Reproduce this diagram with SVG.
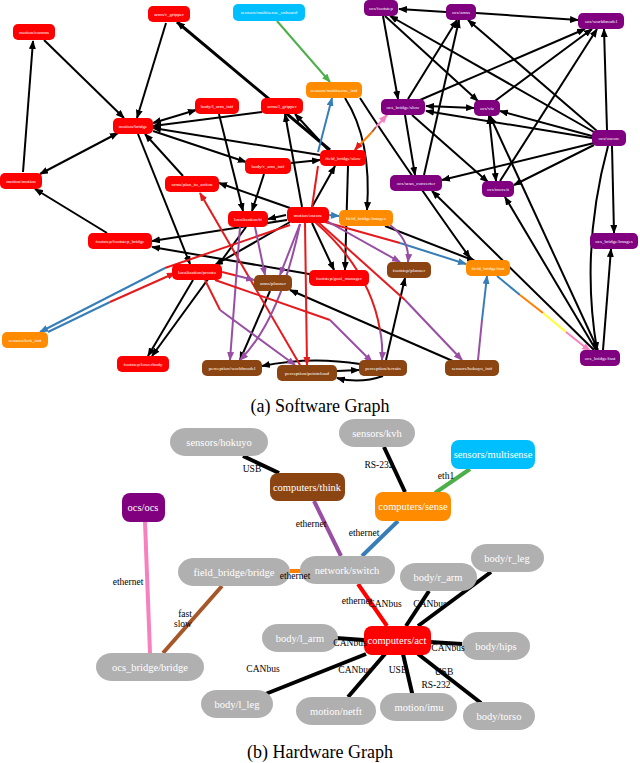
<svg xmlns="http://www.w3.org/2000/svg" width="640" height="763" viewBox="0 0 640 763">
<style>
.n rect{stroke:none}
.r{fill:#f00}.o{fill:#ff8c00}.c{fill:#00bfff}.b{fill:#8b4513}.p{fill:#800080}.g{fill:#b0b0b0}
.t{font-family:"Liberation Serif",serif;font-size:5px;fill:#fff;text-anchor:middle}
.T{font-family:"Liberation Serif",serif;font-size:10.5px;fill:#fff;text-anchor:middle}
.L{font-family:"Liberation Serif",serif;font-size:9.5px;fill:#000;text-anchor:middle}
.cap{font-family:"Liberation Serif",serif;font-size:18px;fill:#000;text-anchor:middle}
#edges line,#edges path{fill:none;stroke-width:2}
.k{stroke:#000;marker-end:url(#ak)}
.kk{stroke:#000;marker-end:url(#ak);marker-start:url(#ak)}
.er{stroke:#e41a1c}.eb{stroke:#377eb8}.ep{stroke:#984ea3}.eg{stroke:#4daf4a}.eo{stroke:#ff7f00}.ey{stroke:#ffff33}.epk{stroke:#f781bf}.ebr{stroke:#a65628}
.ar{marker-end:url(#ar)}.ab{marker-end:url(#ab)}.ap{marker-end:url(#ap)}.ag{marker-end:url(#ag)}.apk{marker-end:url(#apk)}
#hw line{stroke-width:4}
</style>
<defs>
<marker id="ak" markerUnits="userSpaceOnUse" markerWidth="9" markerHeight="7" refX="8" refY="3.5" orient="auto-start-reverse"><path d="M0,0L9,3.5L0,7z" fill="#000"/></marker>
<marker id="ar" markerUnits="userSpaceOnUse" markerWidth="9" markerHeight="7" refX="8" refY="3.5" orient="auto"><path d="M0,0L9,3.5L0,7z" fill="#e41a1c"/></marker>
<marker id="ab" markerUnits="userSpaceOnUse" markerWidth="9" markerHeight="7" refX="8" refY="3.5" orient="auto"><path d="M0,0L9,3.5L0,7z" fill="#377eb8"/></marker>
<marker id="ap" markerUnits="userSpaceOnUse" markerWidth="9" markerHeight="7" refX="8" refY="3.5" orient="auto"><path d="M0,0L9,3.5L0,7z" fill="#984ea3"/></marker>
<marker id="ag" markerUnits="userSpaceOnUse" markerWidth="9" markerHeight="7" refX="8" refY="3.5" orient="auto"><path d="M0,0L9,3.5L0,7z" fill="#4daf4a"/></marker>
<marker id="apk" markerUnits="userSpaceOnUse" markerWidth="9" markerHeight="7" refX="8" refY="3.5" orient="auto"><path d="M0,0L9,3.5L0,7z" fill="#f781bf"/></marker>
</defs>
<rect width="640" height="763" fill="#fff"/>
<g id="edges">
<line class="k" x1="23" y1="172" x2="33" y2="41"/>
<line class="k" x1="44" y1="40" x2="124" y2="118"/>
<line class="k" x1="166" y1="23" x2="137" y2="118"/>
<line class="kk" x1="118" y1="133" x2="40" y2="174"/>
<line class="kk" x1="196" y1="110" x2="153" y2="123"/>
<line class="k" x1="262" y1="112" x2="153" y2="126"/>
<line class="k" x1="330" y1="150" x2="177" y2="22" style="stroke-width:3"/>
<line class="k" x1="320" y1="155" x2="153" y2="128"/>
<line class="k" x1="153" y1="131" x2="246" y2="162"/>
<line class="k" x1="183" y1="176" x2="145" y2="134"/>
<line class="k" x1="138" y1="134" x2="190" y2="264"/>
<line class="k" x1="107" y1="233" x2="35" y2="189"/>
<line class="k" x1="287" y1="220" x2="152" y2="241"/>
<line class="k" x1="286" y1="215" x2="268" y2="219"/>
<line class="k" x1="302" y1="207" x2="285" y2="114"/>
<line class="k" x1="312" y1="207" x2="335" y2="166"/>
<line class="k" x1="312" y1="223" x2="334" y2="270"/>
<line class="k" x1="290" y1="208" x2="219" y2="183"/>
<line class="k" x1="290" y1="222" x2="215" y2="265"/>
<line class="k" x1="219" y1="114" x2="243" y2="211"/>
<line class="k" x1="264" y1="174" x2="252" y2="211"/>
<line class="k" x1="193" y1="280" x2="148" y2="356"/>
<line class="k" x1="246" y1="227" x2="152" y2="356"/>
<line class="k" x1="270" y1="291" x2="240" y2="360"/>
<line class="k" x1="348" y1="166" x2="345" y2="270"/>
<path class="k" d="M345,98 Q372,140 367,210"/>
<path class="k" d="M360,98 Q400,160 470,258"/>
<line class="k" x1="385" y1="226" x2="475" y2="261"/>
<line class="k" x1="386" y1="360" x2="405" y2="278"/>
<line class="k" x1="455" y1="362" x2="290" y2="290"/>
<path class="k" d="M360,364 Q310,356 262,366"/>
<line class="k" x1="337" y1="371" x2="359" y2="370"/>
<path class="k" d="M383,376 Q360,384 337,378"/>
<line class="k" x1="315" y1="275" x2="152" y2="247"/>
<line class="k" x1="330" y1="152" x2="295" y2="114"/>
<line class="k" x1="291" y1="163" x2="320" y2="160"/>
<line class="kk" x1="426" y1="106" x2="474" y2="108"/>
<line class="k" x1="383" y1="16" x2="398" y2="99"/>
<line class="k" x1="446" y1="12" x2="399" y2="9"/>
<line class="k" x1="476" y1="13" x2="578" y2="20"/>
<line class="k" x1="408" y1="99" x2="457" y2="20"/>
<line class="k" x1="420" y1="100" x2="585" y2="29"/>
<line class="k" x1="594" y1="132" x2="390" y2="16"/>
<line class="k" x1="597" y1="131" x2="468" y2="20"/>
<line class="k" x1="592" y1="136" x2="500" y2="111"/>
<line class="k" x1="592" y1="138" x2="426" y2="111"/>
<line class="k" x1="594" y1="143" x2="442" y2="180"/>
<line class="k" x1="594" y1="145" x2="514" y2="185"/>
<line class="k" x1="612" y1="146" x2="614" y2="233"/>
<line class="k" x1="424" y1="175" x2="459" y2="20"/>
<line class="k" x1="405" y1="115" x2="415" y2="175"/>
<line class="k" x1="412" y1="115" x2="488" y2="182"/>
<line class="k" x1="500" y1="181" x2="597" y2="29"/>
<line class="k" x1="495" y1="101" x2="592" y2="29"/>
<line class="kk" x1="489" y1="116" x2="496" y2="181"/>
<line class="k" x1="385" y1="16" x2="478" y2="101"/>
<line class="k" x1="607" y1="130" x2="604" y2="29"/>
<line class="k" x1="594" y1="350" x2="432" y2="191"/>
<line class="k" x1="596" y1="350" x2="505" y2="197"/>
<line class="k" x1="598" y1="350" x2="490" y2="116"/>
<line class="k" x1="603" y1="350" x2="611" y2="249"/>
<path class="k" d="M608,146 Q580,250 597,350"/>
<line class="eg ag" x1="277" y1="21" x2="330" y2="82"/>
<line class="eb ab" x1="318" y1="152" x2="332" y2="98"/>
<line class="eo" x1="355" y1="150" x2="372" y2="132"/>
<line class="er ar" x1="360" y1="144" x2="355" y2="150"/>
<line class="ebr" x1="372" y1="132" x2="376" y2="127"/>
<line class="epk apk" x1="376" y1="127" x2="387" y2="115"/>
<line class="er ar" x1="300" y1="365" x2="200" y2="193"/>
<line class="er" x1="290" y1="225" x2="165" y2="268"/>
<line class="eb ab" x1="165" y1="268" x2="40" y2="332"/>
<line class="eb" x1="48" y1="332" x2="110" y2="302"/>
<line class="er ar" x1="110" y1="302" x2="175" y2="273"/>
<line class="er ar" x1="305" y1="223" x2="307" y2="365"/>
<line class="er" x1="318" y1="222" x2="405" y2="300"/>
<line class="ep ap" x1="405" y1="300" x2="462" y2="360"/>
<path class="er" d="M315,222 Q370,270 380,330"/>
<path class="ep ap" d="M380,330 Q383,345 382,360"/>
<line class="er" x1="325" y1="222" x2="400" y2="243"/>
<line class="eb ab" x1="400" y1="243" x2="466" y2="264"/>
<line class="eb ab" x1="328" y1="215" x2="339" y2="216"/>
<line class="ep ap" x1="255" y1="227" x2="265" y2="275"/>
<line class="er" x1="222" y1="272" x2="238" y2="276"/>
<line class="ep ap" x1="238" y1="276" x2="254" y2="280"/>
<line class="ep ap" x1="300" y1="224" x2="280" y2="275"/>
<line class="ep ap" x1="325" y1="220" x2="400" y2="262"/>
<line class="ep ap" x1="240" y1="227" x2="230" y2="360"/>
<path class="ep ap" d="M300,224 Q280,320 240,360"/>
<line class="er" x1="205" y1="280" x2="220" y2="310"/>
<line class="ep ap" x1="220" y1="310" x2="295" y2="365"/>
<path class="ep ap" d="M390,225 Q410,240 408,262"/>
<line class="er" x1="215" y1="280" x2="330" y2="320"/>
<line class="ep ap" x1="330" y1="320" x2="372" y2="362"/>
<line class="ep" x1="478" y1="360" x2="482" y2="320"/>
<line class="eb ab" x1="482" y1="320" x2="487" y2="276"/>
<line class="eb" x1="497" y1="276" x2="520" y2="295"/>
<line class="eo" x1="520" y1="295" x2="543" y2="313"/>
<line class="ey" x1="543" y1="313" x2="566" y2="332"/>
<line class="epk apk" x1="566" y1="332" x2="590" y2="351"/>
<line class="er" x1="312" y1="207" x2="318" y2="166"/>
</g>
<g id="n-motion-comms" class="n"><rect class="r" x="13" y="24" width="42" height="16" rx="5"/><text class="t" x="34" y="34">motion/comms</text></g>
<g id="n-arms-r-gripper" class="n"><rect class="r" x="148" y="6" width="42" height="16" rx="5"/><text class="t" x="169" y="16">arms/r_gripper</text></g>
<g id="n-motion-bridge" class="n"><rect class="r" x="113" y="118" width="40" height="16" rx="5"/><text class="t" x="133" y="128">motion/bridge</text></g>
<g id="n-body-l-arm-intf" class="n"><rect class="r" x="195" y="98" width="44" height="16" rx="5"/><text class="t" x="217" y="108">body/l_arm_intf</text></g>
<g id="n-arms-l-gripper" class="n"><rect class="r" x="261" y="98" width="42" height="16" rx="5"/><text class="t" x="282" y="108">arms/l_gripper</text></g>
<g id="n-motion-motion" class="n"><rect class="r" x="0" y="173" width="42" height="16" rx="5"/><text class="t" x="21" y="183">motion/motion</text></g>
<g id="n-body-r-arm-intf" class="n"><rect class="r" x="245" y="158" width="46" height="16" rx="5"/><text class="t" x="268" y="168">body/r_arm_intf</text></g>
<g id="n-arms-plan" class="n"><rect class="r" x="165" y="176" width="54" height="16" rx="5"/><text class="t" x="192" y="186">arms/plan_to_action</text></g>
<g id="n-localization-tf" class="n"><rect class="r" x="228" y="211" width="40" height="16" rx="5"/><text class="t" x="248" y="221">localization/tf</text></g>
<g id="n-motion-oscore" class="n"><rect class="r" x="287" y="207" width="42" height="16" rx="5"/><text class="t" x="308" y="217">motion/oscore</text></g>
<g id="n-field-bridge-slow" class="n"><rect class="r" x="320" y="150" width="46" height="16" rx="5"/><text class="t" x="343" y="160">field_bridge/slow</text></g>
<g id="n-footstep-bridge" class="n"><rect class="r" x="88" y="233" width="64" height="16" rx="5"/><text class="t" x="120" y="243">footstep/footstep_bridge</text></g>
<g id="n-localization-pronto" class="n"><rect class="r" x="172" y="264" width="50" height="16" rx="5"/><text class="t" x="197" y="274">localization/pronto</text></g>
<g id="n-footstep-goal" class="n"><rect class="r" x="309" y="270" width="60" height="16" rx="5"/><text class="t" x="339" y="280">footstep/goal_manager</text></g>
<g id="n-footstep-lowerbody" class="n"><rect class="r" x="117" y="356" width="52" height="16" rx="5"/><text class="t" x="143" y="366">footstep/lowerbody</text></g>
<g id="n-multisense-intf" class="n"><rect class="o" x="306" y="82" width="56" height="16" rx="5"/><text class="t" x="334" y="92">sensors/multisense_intf</text></g>
<g id="n-field-bridge-images" class="n"><rect class="o" x="339" y="210" width="54" height="16" rx="5"/><text class="t" x="366" y="220">field_bridge/images</text></g>
<g id="n-field-bridge-fast" class="n"><rect class="o" x="466" y="260" width="44" height="16" rx="5"/><text class="t" x="488" y="270">field_bridge/fast</text></g>
<g id="n-kvh-intf" class="n"><rect class="o" x="2" y="332" width="46" height="16" rx="5"/><text class="t" x="25" y="342">sensors/kvh_intf</text></g>
<g id="n-multisense-onboard" class="n"><rect class="c" x="233" y="4" width="72" height="17" rx="5"/><text class="t" x="269" y="14">sensors/multisense_onboard</text></g>
<g id="n-arms-planner" class="n"><rect class="b" x="254" y="275" width="38" height="16" rx="5"/><text class="t" x="273" y="285">arms/planner</text></g>
<g id="n-footstep-planner" class="n"><rect class="b" x="387" y="262" width="44" height="16" rx="5"/><text class="t" x="409" y="272">footstep/planner</text></g>
<g id="n-worldmodel" class="n"><rect class="b" x="202" y="360" width="60" height="16" rx="5"/><text class="t" x="232" y="370">perception/worldmodel</text></g>
<g id="n-pointcloud" class="n"><rect class="b" x="277" y="365" width="60" height="16" rx="5"/><text class="t" x="307" y="375">perception/pointcloud</text></g>
<g id="n-terrain" class="n"><rect class="b" x="359" y="360" width="48" height="16" rx="5"/><text class="t" x="383" y="370">perception/terrain</text></g>
<g id="n-hokuyo-intf" class="n"><rect class="b" x="445" y="360" width="54" height="16" rx="5"/><text class="t" x="472" y="370">sensors/hokuyo_intf</text></g>
<g id="n-ocs-footstep" class="n"><rect class="p" x="364" y="0" width="34" height="16" rx="5"/><text class="t" x="381" y="10">ocs/footstep</text></g>
<g id="n-ocs-arms" class="n"><rect class="p" x="446" y="4" width="30" height="16" rx="5"/><text class="t" x="461" y="14">ocs/arms</text></g>
<g id="n-ocs-worldmodel" class="n"><rect class="p" x="578" y="13" width="46" height="16" rx="5"/><text class="t" x="601" y="23">ocs/worldmodel</text></g>
<g id="n-ocs-bridge-slow" class="n"><rect class="p" x="381" y="99" width="44" height="16" rx="5"/><text class="t" x="403" y="109">ocs_bridge/slow</text></g>
<g id="n-ocs-viz" class="n"><rect class="p" x="474" y="100" width="26" height="16" rx="5"/><text class="t" x="487" y="110">ocs/viz</text></g>
<g id="n-ocs-oscore" class="n"><rect class="p" x="592" y="130" width="34" height="16" rx="5"/><text class="t" x="609" y="140">ocs/oscore</text></g>
<g id="n-ocs-scan" class="n"><rect class="p" x="390" y="175" width="52" height="16" rx="5"/><text class="t" x="416" y="185">ocs/scan_converter</text></g>
<g id="n-ocs-moveit" class="n"><rect class="p" x="482" y="181" width="32" height="16" rx="5"/><text class="t" x="498" y="191">ocs/moveit</text></g>
<g id="n-ocs-bridge-images" class="n"><rect class="p" x="590" y="233" width="48" height="16" rx="5"/><text class="t" x="614" y="243">ocs_bridge/images</text></g>
<g id="n-ocs-bridge-fast" class="n"><rect class="p" x="580" y="350" width="40" height="16" rx="5"/><text class="t" x="600" y="360">ocs_bridge/fast</text></g>
<text class="cap" x="320" y="412">(a) Software Graph</text>
<g id="hw">
<line stroke="#000" x1="243" y1="456" x2="279" y2="473"/>
<line stroke="#000" x1="384" y1="447" x2="405" y2="492"/>
<line stroke="#4daf4a" x1="470" y1="469" x2="435" y2="493"/>
<line stroke="#984ea3" x1="314" y1="501" x2="341" y2="556"/>
<line stroke="#377eb8" x1="398" y1="521" x2="362" y2="556"/>
<line stroke="#f781bf" x1="145" y1="522" x2="150" y2="653"/>
<line stroke="#ff7f00" x1="290" y1="571" x2="302" y2="571"/>
<line stroke="#a65628" x1="222" y1="586" x2="163" y2="653"/>
<line stroke="#f00" x1="358" y1="584" x2="387" y2="626"/>
<line stroke="#000" x1="429" y1="591" x2="406" y2="626"/>
<line stroke="#000" x1="491" y1="572" x2="418" y2="626"/>
<line stroke="#000" x1="336" y1="638" x2="364" y2="640"/>
<line stroke="#000" x1="462" y1="644" x2="430" y2="642"/>
<line stroke="#000" x1="263" y1="695" x2="366" y2="654"/>
<line stroke="#000" x1="348" y1="697" x2="385" y2="654"/>
<line stroke="#000" x1="413" y1="697" x2="403" y2="654"/>
<line stroke="#000" x1="481" y1="703" x2="418" y2="654"/>
</g>
<g id="h-hokuyo"><rect class="g" x="170" y="428" width="98" height="28" rx="16"/><text class="T" x="219" y="446">sensors/hokuyo</text></g>
<g id="h-kvh"><rect class="g" x="339" y="419" width="76" height="28" rx="16"/><text class="T" x="377" y="437">sensors/kvh</text></g>
<g id="h-multisense"><rect class="c" x="451" y="440" width="84" height="29" rx="8"/><text class="T" x="493" y="458">sensors/multisense</text></g>
<g id="h-think"><rect class="b" x="270" y="473" width="75" height="28" rx="8"/><text class="T" x="307" y="491">computers/think</text></g>
<g id="h-sense"><rect class="o" x="375" y="492" width="76" height="29" rx="8"/><text class="T" x="413" y="510">computers/sense</text></g>
<g id="h-ocs"><rect class="p" x="122" y="493" width="43" height="29" rx="8"/><text class="T" x="143" y="511">ocs/ocs</text></g>
<g id="h-field-bridge"><rect class="g" x="178" y="558" width="112" height="28" rx="16"/><text class="T" x="234" y="576">field_bridge/bridge</text></g>
<g id="h-switch"><rect class="g" x="300" y="556" width="95" height="28" rx="16"/><text class="T" x="347" y="574">network/switch</text></g>
<g id="h-r-leg"><rect class="g" x="471" y="544" width="73" height="28" rx="16"/><text class="T" x="507" y="562">body/r_leg</text></g>
<g id="h-r-arm"><rect class="g" x="400" y="563" width="77" height="28" rx="16"/><text class="T" x="438" y="581">body/r_arm</text></g>
<g id="h-l-arm"><rect class="g" x="262" y="624" width="76" height="28" rx="16"/><text class="T" x="300" y="642">body/l_arm</text></g>
<g id="h-act"><rect class="r" x="364" y="626" width="67" height="29" rx="8"/><text class="T" x="397" y="644">computers/act</text></g>
<g id="h-hips"><rect class="g" x="462" y="632" width="68" height="28" rx="16"/><text class="T" x="496" y="650">body/hips</text></g>
<g id="h-ocs-bridge"><rect class="g" x="96" y="653" width="108" height="28" rx="16"/><text class="T" x="150" y="671">ocs_bridge/bridge</text></g>
<g id="h-l-leg"><rect class="g" x="201" y="690" width="72" height="28" rx="16"/><text class="T" x="237" y="708">body/l_leg</text></g>
<g id="h-netft"><rect class="g" x="296" y="697" width="80" height="28" rx="16"/><text class="T" x="336" y="715">motion/netft</text></g>
<g id="h-imu"><rect class="g" x="380" y="693" width="77" height="28" rx="16"/><text class="T" x="419" y="711">motion/imu</text></g>
<g id="h-torso"><rect class="g" x="463" y="702" width="72" height="28" rx="16"/><text class="T" x="499" y="720">body/torso</text></g>
<g id="hw-labels">
<text class="L" x="252" y="472">USB</text>
<text class="L" x="379" y="468">RS-232</text>
<text class="L" x="446" y="479">eth1</text>
<text class="L" x="311" y="527">ethernet</text>
<text class="L" x="364" y="536">ethernet</text>
<text class="L" x="128" y="585">ethernet</text>
<text class="L" x="295" y="579">ethernet</text>
<text class="L" x="185" y="617">fast</text>
<text class="L" x="183" y="627">slow</text>
<text class="L" x="357" y="604">ethernet</text>
<text class="L" x="385" y="607">CANbus</text>
<text class="L" x="430" y="607">CANbus</text>
<text class="L" x="350" y="646">CANbus</text>
<text class="L" x="448" y="651">CANbus</text>
<text class="L" x="263" y="672">CANbus</text>
<text class="L" x="355" y="673">CANbus</text>
<text class="L" x="398" y="673">USB</text>
<text class="L" x="444" y="675">USB</text>
<text class="L" x="436" y="688">RS-232</text>
</g>
<text class="cap" x="320" y="758">(b) Hardware Graph</text>
</svg>
